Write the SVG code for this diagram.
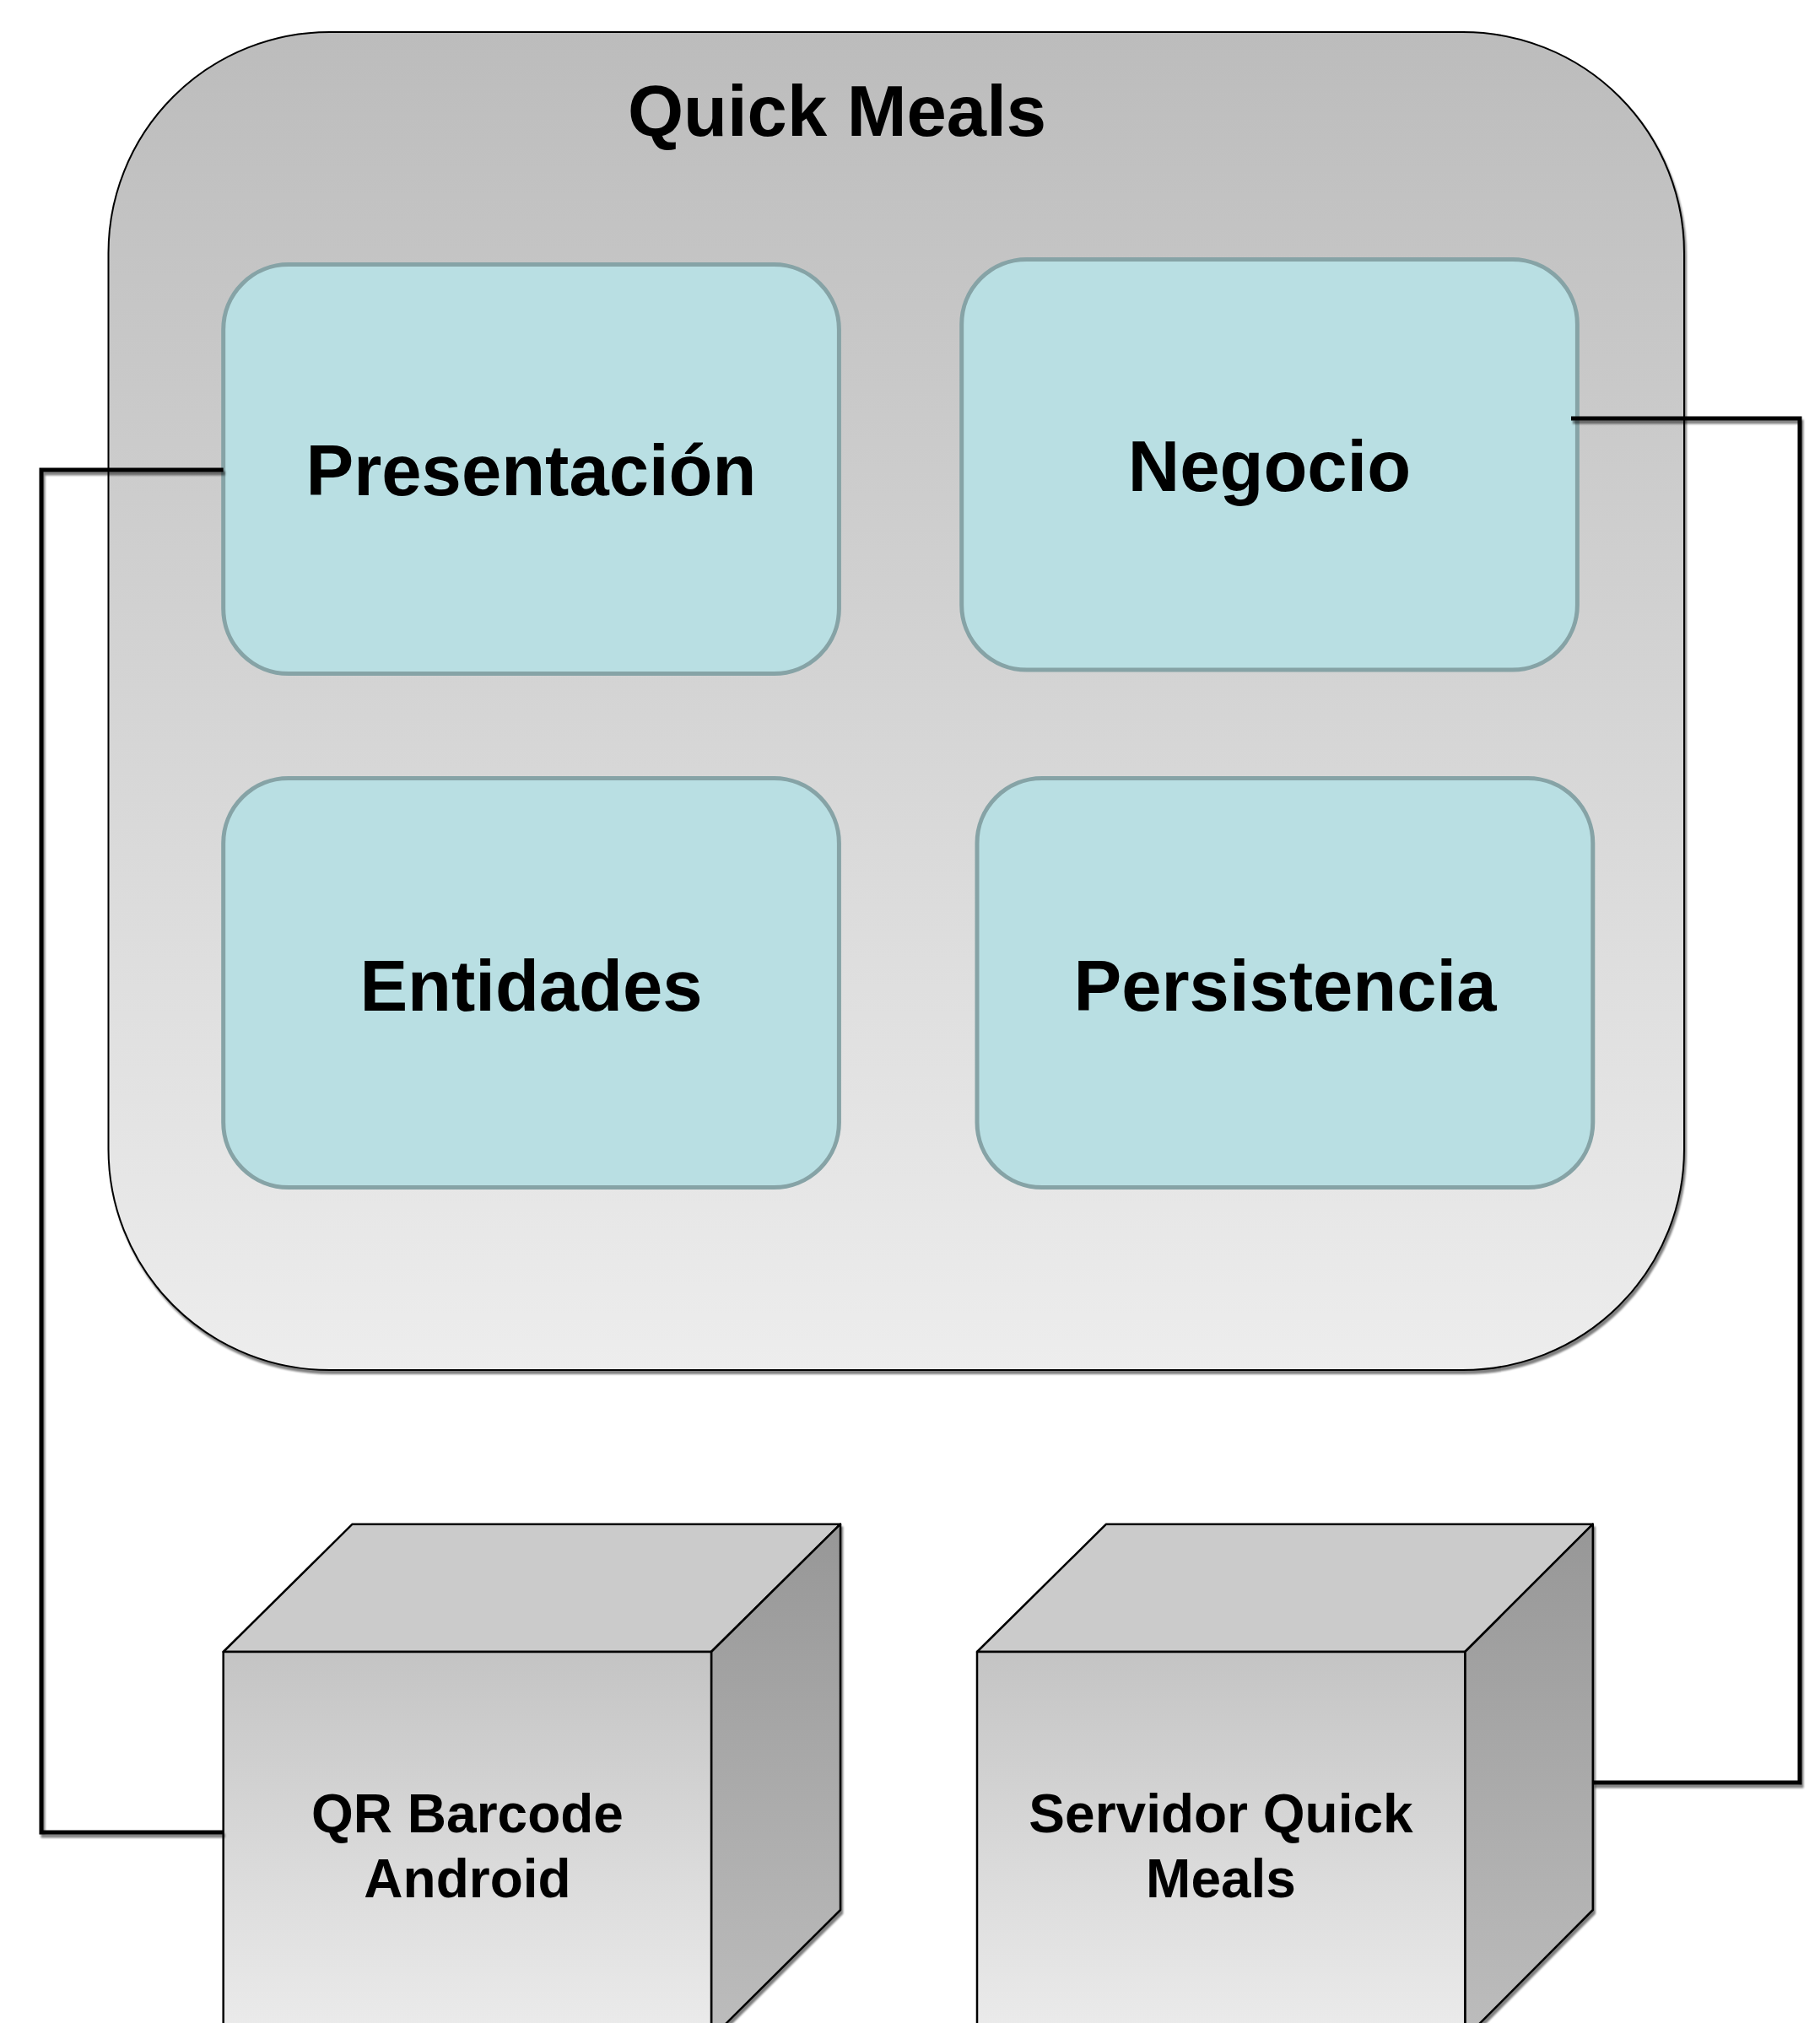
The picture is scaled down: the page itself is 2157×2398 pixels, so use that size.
<svg xmlns="http://www.w3.org/2000/svg" width="2157" height="2398" viewBox="0 0 2157 2398">
<defs>
<linearGradient id="gCont" x1="0" y1="0" x2="0" y2="1">
<stop offset="0" stop-color="#bcbcbc"/>
<stop offset="1" stop-color="#ededed"/>
</linearGradient>
<linearGradient id="gFront" x1="0" y1="0" x2="0" y2="1">
<stop offset="0" stop-color="#c4c4c4"/>
<stop offset="1" stop-color="#ececec"/>
</linearGradient>
<linearGradient id="gSide" x1="0" y1="0" x2="0" y2="1">
<stop offset="0" stop-color="#979797"/>
<stop offset="1" stop-color="#bdbdbd"/>
</linearGradient>
<filter id="sh" x="-5%" y="-5%" width="110%" height="110%">
<feGaussianBlur in="SourceAlpha" stdDeviation="1.2"/>
<feOffset dx="2" dy="4" result="o"/>
<feComponentTransfer><feFuncA type="linear" slope="0.5"/></feComponentTransfer>
<feMerge><feMergeNode/><feMergeNode in="SourceGraphic"/></feMerge>
</filter>
</defs>
<style>
.lbl{font-family:"Liberation Sans",Arial,sans-serif;font-weight:bold;fill:#000;text-anchor:middle}
.big{font-size:85px}
.small{font-size:64px}
.layer{fill:#b9dfe3;stroke:#86a3a6;stroke-width:5}
.edge{fill:none;stroke:#000;stroke-width:5;stroke-linejoin:miter}
.cube{stroke:#000;stroke-width:2.5;stroke-linejoin:round}
</style>
<rect width="2157" height="2398" fill="#fff"/>

<g id="quick-meals">
<rect x="128.5" y="38" width="1867.5" height="1586" rx="262" ry="262" fill="url(#gCont)" stroke="#000" stroke-width="2" filter="url(#sh)"/>
<text class="lbl big" x="992" y="161">Quick Meals</text>
</g>

<g id="presentacion">
<rect class="layer" x="264.7" y="313.6" width="729.7" height="485" rx="77"/>
<text class="lbl big" x="629.5" y="587">Presentación</text>
</g>
<g id="negocio">
<rect class="layer" x="1139.7" y="307.5" width="729.7" height="486.5" rx="77"/>
<text class="lbl big" x="1504.5" y="582">Negocio</text>
</g>
<g id="entidades">
<rect class="layer" x="264.7" y="922.5" width="729.7" height="485" rx="77"/>
<text class="lbl big" x="629.5" y="1198">Entidades</text>
</g>
<g id="persistencia">
<rect class="layer" x="1158" y="922.5" width="729.8" height="485" rx="77"/>
<text class="lbl big" x="1523" y="1198">Persistencia</text>
</g>

<g id="qr-barcode-android" filter="url(#sh)">
<polygon class="cube" points="264.7,1958 417.6,1806.7 996,1806.7 843,1958" fill="#cbcbcb"/>
<polygon class="cube" points="843,1958 996,1806.7 996,2264 843,2416" fill="url(#gSide)"/>
<rect class="cube" x="264.7" y="1958" width="578.3" height="458" fill="url(#gFront)"/>
<text class="lbl small" x="554" y="2172">QR Barcode</text>
<text class="lbl small" x="554" y="2249">Android</text>
</g>

<g id="servidor-quick-meals" filter="url(#sh)">
<polygon class="cube" points="1158,1958 1311,1806.7 1887.8,1806.7 1736.3,1958" fill="#cbcbcb"/>
<polygon class="cube" points="1736.3,1958 1887.8,1806.7 1887.8,2264 1736.3,2416" fill="url(#gSide)"/>
<rect class="cube" x="1158" y="1958" width="578.3" height="458" fill="url(#gFront)"/>
<text class="lbl small" x="1447" y="2172">Servidor Quick</text>
<text class="lbl small" x="1447" y="2249">Meals</text>
</g>

<g id="connectors" filter="url(#sh)">
<path class="edge" d="M264.7,557 H49 V2172 H264.7"/>
<path class="edge" d="M1862,496 H2133 V2113 H1887.8"/>
</g>
</svg>
